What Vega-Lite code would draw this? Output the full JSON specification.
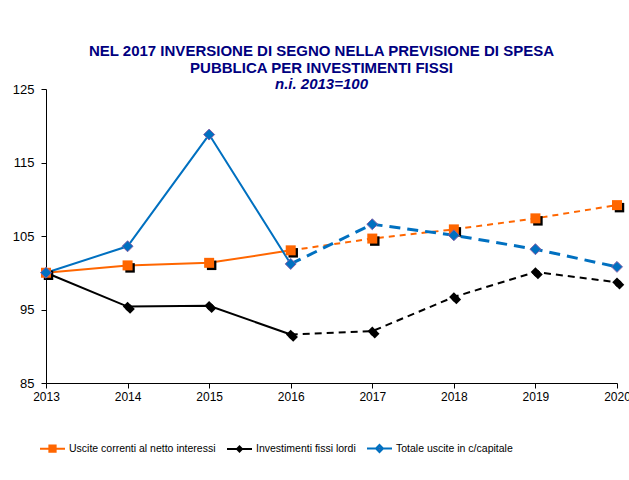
{
  "$schema": "https://vega.github.io/schema/vega-lite/v6.json",
  "width": 571,
  "height": 294,
  "autosize": {"type": "none"},
  "padding": {"left": 46, "top": 89, "right": 12, "bottom": 97},
  "background": "white",
  "config": {
    "font": "Liberation Sans",
    "view": {"stroke": null}
  },
  "title": {
    "text": ["NEL 2017 INVERSIONE DI SEGNO NELLA PREVISIONE DI SPESA", "PUBBLICA PER INVESTIMENTI  FISSI"],
    "subtitle": "n.i. 2013=100",
    "anchor": "middle",
    "frame": "group",
    "dx": -10,
    "offset": -9,
    "font": "Liberation Sans",
    "fontSize": 15,
    "fontWeight": "bold",
    "color": "#000080",
    "lineHeight": 17,
    "subtitleFont": "Liberation Sans",
    "subtitleFontSize": 15,
    "subtitleFontWeight": "bold",
    "subtitleFontStyle": "italic",
    "subtitleColor": "#000080",
    "subtitlePadding": 1
  },
  "data": {
    "values": [
      {"year": 2013, "series": "Uscite correnti al netto interessi", "value": 100.0},
      {"year": 2014, "series": "Uscite correnti al netto interessi", "value": 101.0},
      {"year": 2015, "series": "Uscite correnti al netto interessi", "value": 101.35},
      {"year": 2016, "series": "Uscite correnti al netto interessi", "value": 103.05},
      {"year": 2017, "series": "Uscite correnti al netto interessi", "value": 104.65},
      {"year": 2018, "series": "Uscite correnti al netto interessi", "value": 105.9},
      {"year": 2019, "series": "Uscite correnti al netto interessi", "value": 107.4},
      {"year": 2020, "series": "Uscite correnti al netto interessi", "value": 109.2},
      {"year": 2013, "series": "Investimenti fissi lordi", "value": 100.0},
      {"year": 2014, "series": "Investimenti fissi lordi", "value": 95.4},
      {"year": 2015, "series": "Investimenti fissi lordi", "value": 95.5},
      {"year": 2016, "series": "Investimenti fissi lordi", "value": 91.6},
      {"year": 2017, "series": "Investimenti fissi lordi", "value": 92.05},
      {"year": 2018, "series": "Investimenti fissi lordi", "value": 96.7},
      {"year": 2019, "series": "Investimenti fissi lordi", "value": 100.1},
      {"year": 2020, "series": "Investimenti fissi lordi", "value": 98.7},
      {"year": 2013, "series": "Totale uscite in c/capitale", "value": 100.0},
      {"year": 2014, "series": "Totale uscite in c/capitale", "value": 103.6},
      {"year": 2015, "series": "Totale uscite in c/capitale", "value": 118.8},
      {"year": 2016, "series": "Totale uscite in c/capitale", "value": 101.2},
      {"year": 2017, "series": "Totale uscite in c/capitale", "value": 106.6},
      {"year": 2018, "series": "Totale uscite in c/capitale", "value": 105.1},
      {"year": 2019, "series": "Totale uscite in c/capitale", "value": 103.2},
      {"year": 2020, "series": "Totale uscite in c/capitale", "value": 100.8}
    ]
  },
  "encoding": {
    "x": {
      "field": "year",
      "type": "quantitative",
      "scale": {"domain": [2013, 2020], "nice": false, "zero": false},
      "axis": {
        "title": null,
        "values": [2013, 2014, 2015, 2016, 2017, 2018, 2019, 2020],
        "format": "d",
        "grid": false,
        "domainColor": "#000000",
        "tickColor": "#000000",
        "tickSize": 5,
        "labelColor": "#000000",
        "labelFontSize": 12,
        "labelPadding": 3,
        "labelFlush": false,
        "labelOverlap": false
      }
    },
    "y": {
      "field": "value",
      "type": "quantitative",
      "scale": {"domain": [85, 125], "nice": false, "zero": false},
      "axis": {
        "title": null,
        "values": [85, 95, 105, 115, 125],
        "grid": false,
        "domainColor": "#000000",
        "tickColor": "#000000",
        "tickSize": 5,
        "labelColor": "#000000",
        "labelFontSize": 13,
        "labelPadding": 7
      }
    }
  },
  "layer": [
    {
      "transform": [{"filter": "datum.year <= 2016"}],
      "mark": {"type": "line"},
      "encoding": {
        "color": {
          "field": "series",
          "type": "nominal",
          "scale": {
            "domain": ["Uscite correnti al netto interessi", "Investimenti fissi lordi", "Totale uscite in c/capitale"],
            "range": ["#FF6600", "#000000", "#0070C0"]
          },
          "legend": {
            "orient": "none",
            "legendX": -7,
            "legendY": 346,
            "direction": "horizontal",
            "title": null,
            "symbolSize": 625,
            "symbolStrokeWidth": 2,
            "labelFontSize": 10.5,
            "labelColor": "#000000",
            "labelOffset": 3,
            "columnPadding": 7,
            "padding": 0,
            "encode": {
              "symbols": {
                "update": {
                  "shape": {"signal": "datum.value === 'Uscite correnti al netto interessi' ? 'M-1,0H1M-0.25,-0.25H0.25V0.25H-0.25Z' : (datum.value === 'Totale uscite in c/capitale' ? 'M-1,0H1M0,-0.28L0.28,0L0,0.28L-0.28,0Z' : 'M-1,0H1M0,-0.2L0.2,0L0,0.2L-0.2,0Z')"},
                  "fill": {"signal": "datum.value === 'Totale uscite in c/capitale' ? '#7F5FA8' : scale('color', datum.value)"},
                  "stroke": {"signal": "scale('color', datum.value)"},
                  "opacity": {"value": 1}
                }
              }
            }
          }
        },
        "strokeWidth": {
          "field": "series",
          "type": "nominal",
          "scale": {
            "domain": ["Uscite correnti al netto interessi", "Investimenti fissi lordi", "Totale uscite in c/capitale"],
            "range": [2, 2, 3]
          },
          "legend": null
        }
      }
    },
    {
      "transform": [{"filter": "datum.year >= 2016 && datum.series === 'Uscite correnti al netto interessi'"}],
      "mark": {"type": "line", "color": "#FF6600", "strokeWidth": 2, "strokeDash": [6, 5]},
      "encoding": {}
    },
    {
      "transform": [{"filter": "datum.year >= 2016 && datum.series === 'Investimenti fissi lordi'"}],
      "mark": {"type": "line", "color": "#000000", "strokeWidth": 2, "strokeDash": [7, 5]},
      "encoding": {}
    },
    {
      "transform": [{"filter": "datum.year >= 2016 && datum.series === 'Totale uscite in c/capitale'"}],
      "mark": {"type": "line", "color": "#0070C0", "strokeWidth": 3, "strokeDash": [11, 7]},
      "encoding": {}
    },
    {
      "transform": [{"filter": "datum.series !== 'Totale uscite in c/capitale'"}],
      "mark": {"type": "point", "filled": true, "color": "#000000", "opacity": 1, "xOffset": 2.5, "yOffset": 2.5, "size": 90},
      "encoding": {
        "shape": {
          "field": "series",
          "type": "nominal",
          "scale": {
            "domain": ["Uscite correnti al netto interessi", "Investimenti fissi lordi"],
            "range": ["square", "diamond"]
          },
          "legend": null
        }
      }
    },
    {
      "transform": [{"filter": "datum.series === 'Uscite correnti al netto interessi'"}],
      "mark": {"type": "point", "filled": true, "shape": "square", "color": "#FF6600", "opacity": 1, "size": 100}
    },
    {
      "transform": [{"filter": "datum.series === 'Investimenti fissi lordi'"}],
      "mark": {"type": "point", "filled": true, "shape": "diamond", "color": "#000000", "opacity": 1, "size": 90}
    },
    {
      "transform": [{"filter": "datum.series === 'Totale uscite in c/capitale'"}],
      "mark": {"type": "point", "filled": true, "shape": "diamond", "fill": "#0070C0", "stroke": "#7F5FA8", "strokeWidth": 1, "opacity": 1, "size": 120}
    }
  ]
}
